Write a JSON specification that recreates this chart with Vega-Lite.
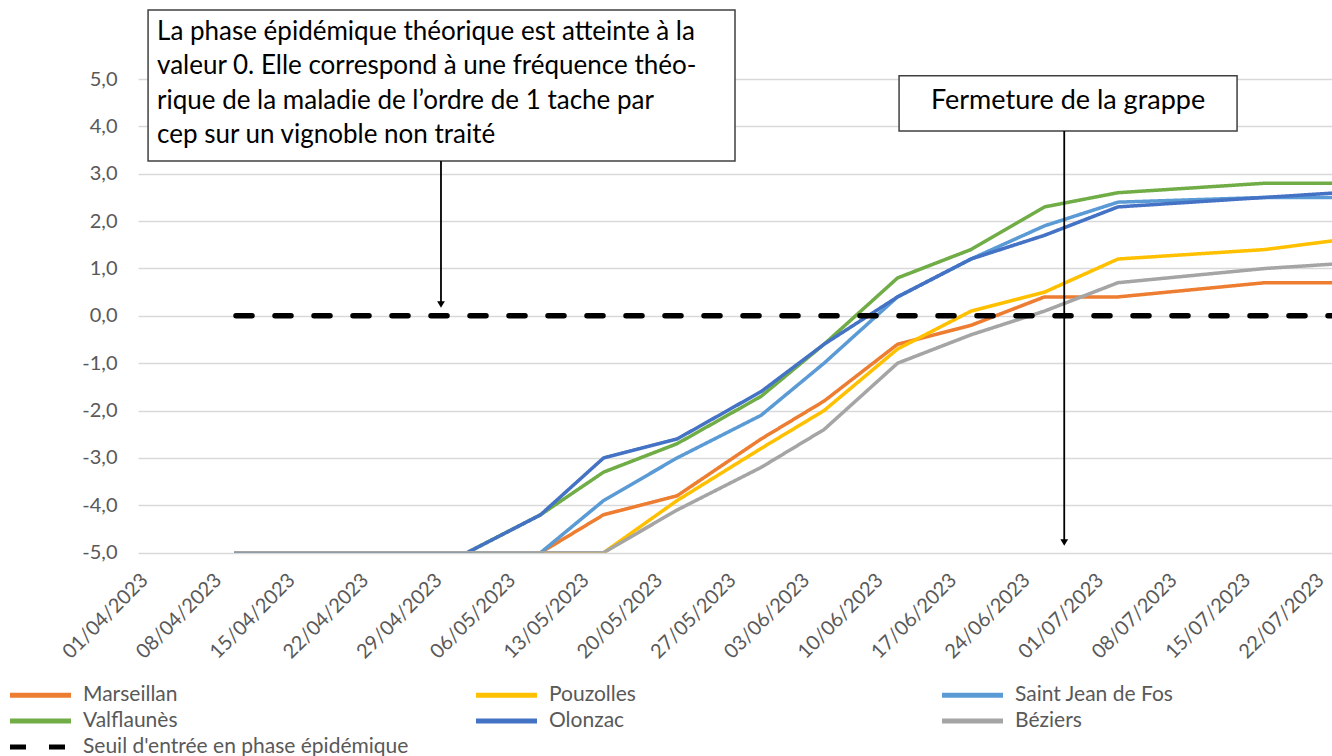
{
  "$schema": "https://vega.github.io/schema/vega-lite/v6.json",
  "width": 1194,
  "height": 473.7,
  "autosize": {"type": "none"},
  "padding": {"left": 138, "top": 79, "right": 0, "bottom": 203.3},
  "background": "white",
  "config": {
    "view": {"stroke": null},
    "locale": {
      "number": {"decimal": ",", "thousands": " ", "grouping": [3], "currency": ["", " €"], "minus": "-"}
    },
    "font": "Lato"
  },
  "datasets": {
    "series": [
      {"date": "2023-04-10T00:00:00", "site": "Marseillan", "value": -5},
      {"date": "2023-04-17T00:00:00", "site": "Marseillan", "value": -5},
      {"date": "2023-04-24T00:00:00", "site": "Marseillan", "value": -5},
      {"date": "2023-05-02T00:00:00", "site": "Marseillan", "value": -5},
      {"date": "2023-05-09T00:00:00", "site": "Marseillan", "value": -5},
      {"date": "2023-05-15T00:00:00", "site": "Marseillan", "value": -4.2},
      {"date": "2023-05-22T00:00:00", "site": "Marseillan", "value": -3.8},
      {"date": "2023-05-30T00:00:00", "site": "Marseillan", "value": -2.6},
      {"date": "2023-06-05T00:00:00", "site": "Marseillan", "value": -1.8},
      {"date": "2023-06-12T00:00:00", "site": "Marseillan", "value": -0.6},
      {"date": "2023-06-19T00:00:00", "site": "Marseillan", "value": -0.2},
      {"date": "2023-06-26T00:00:00", "site": "Marseillan", "value": 0.4},
      {"date": "2023-07-03T00:00:00", "site": "Marseillan", "value": 0.4},
      {"date": "2023-07-17T00:00:00", "site": "Marseillan", "value": 0.7},
      {"date": "2023-07-24T00:00:00", "site": "Marseillan", "value": 0.7},

      {"date": "2023-04-10T00:00:00", "site": "Pouzolles", "value": -5},
      {"date": "2023-04-17T00:00:00", "site": "Pouzolles", "value": -5},
      {"date": "2023-04-24T00:00:00", "site": "Pouzolles", "value": -5},
      {"date": "2023-05-02T00:00:00", "site": "Pouzolles", "value": -5},
      {"date": "2023-05-09T00:00:00", "site": "Pouzolles", "value": -5},
      {"date": "2023-05-15T00:00:00", "site": "Pouzolles", "value": -5},
      {"date": "2023-05-22T00:00:00", "site": "Pouzolles", "value": -3.9},
      {"date": "2023-05-30T00:00:00", "site": "Pouzolles", "value": -2.8},
      {"date": "2023-06-05T00:00:00", "site": "Pouzolles", "value": -2.0},
      {"date": "2023-06-12T00:00:00", "site": "Pouzolles", "value": -0.7},
      {"date": "2023-06-19T00:00:00", "site": "Pouzolles", "value": 0.1},
      {"date": "2023-06-26T00:00:00", "site": "Pouzolles", "value": 0.5},
      {"date": "2023-07-03T00:00:00", "site": "Pouzolles", "value": 1.2},
      {"date": "2023-07-17T00:00:00", "site": "Pouzolles", "value": 1.4},
      {"date": "2023-07-24T00:00:00", "site": "Pouzolles", "value": 1.6},

      {"date": "2023-04-10T00:00:00", "site": "Saint Jean de Fos", "value": -5},
      {"date": "2023-04-17T00:00:00", "site": "Saint Jean de Fos", "value": -5},
      {"date": "2023-04-24T00:00:00", "site": "Saint Jean de Fos", "value": -5},
      {"date": "2023-05-02T00:00:00", "site": "Saint Jean de Fos", "value": -5},
      {"date": "2023-05-09T00:00:00", "site": "Saint Jean de Fos", "value": -5},
      {"date": "2023-05-15T00:00:00", "site": "Saint Jean de Fos", "value": -3.9},
      {"date": "2023-05-22T00:00:00", "site": "Saint Jean de Fos", "value": -3.0},
      {"date": "2023-05-30T00:00:00", "site": "Saint Jean de Fos", "value": -2.1},
      {"date": "2023-06-05T00:00:00", "site": "Saint Jean de Fos", "value": -1.0},
      {"date": "2023-06-12T00:00:00", "site": "Saint Jean de Fos", "value": 0.4},
      {"date": "2023-06-19T00:00:00", "site": "Saint Jean de Fos", "value": 1.2},
      {"date": "2023-06-26T00:00:00", "site": "Saint Jean de Fos", "value": 1.9},
      {"date": "2023-07-03T00:00:00", "site": "Saint Jean de Fos", "value": 2.4},
      {"date": "2023-07-17T00:00:00", "site": "Saint Jean de Fos", "value": 2.5},
      {"date": "2023-07-24T00:00:00", "site": "Saint Jean de Fos", "value": 2.5},

      {"date": "2023-04-10T00:00:00", "site": "Valflaunès", "value": -5},
      {"date": "2023-04-17T00:00:00", "site": "Valflaunès", "value": -5},
      {"date": "2023-04-24T00:00:00", "site": "Valflaunès", "value": -5},
      {"date": "2023-05-02T00:00:00", "site": "Valflaunès", "value": -5},
      {"date": "2023-05-09T00:00:00", "site": "Valflaunès", "value": -4.2},
      {"date": "2023-05-15T00:00:00", "site": "Valflaunès", "value": -3.3},
      {"date": "2023-05-22T00:00:00", "site": "Valflaunès", "value": -2.7},
      {"date": "2023-05-30T00:00:00", "site": "Valflaunès", "value": -1.7},
      {"date": "2023-06-05T00:00:00", "site": "Valflaunès", "value": -0.6},
      {"date": "2023-06-12T00:00:00", "site": "Valflaunès", "value": 0.8},
      {"date": "2023-06-19T00:00:00", "site": "Valflaunès", "value": 1.4},
      {"date": "2023-06-26T00:00:00", "site": "Valflaunès", "value": 2.3},
      {"date": "2023-07-03T00:00:00", "site": "Valflaunès", "value": 2.6},
      {"date": "2023-07-17T00:00:00", "site": "Valflaunès", "value": 2.8},
      {"date": "2023-07-24T00:00:00", "site": "Valflaunès", "value": 2.8},

      {"date": "2023-04-10T00:00:00", "site": "Olonzac", "value": -5},
      {"date": "2023-04-17T00:00:00", "site": "Olonzac", "value": -5},
      {"date": "2023-04-24T00:00:00", "site": "Olonzac", "value": -5},
      {"date": "2023-05-02T00:00:00", "site": "Olonzac", "value": -5},
      {"date": "2023-05-09T00:00:00", "site": "Olonzac", "value": -4.2},
      {"date": "2023-05-15T00:00:00", "site": "Olonzac", "value": -3.0},
      {"date": "2023-05-22T00:00:00", "site": "Olonzac", "value": -2.6},
      {"date": "2023-05-30T00:00:00", "site": "Olonzac", "value": -1.6},
      {"date": "2023-06-05T00:00:00", "site": "Olonzac", "value": -0.6},
      {"date": "2023-06-12T00:00:00", "site": "Olonzac", "value": 0.4},
      {"date": "2023-06-19T00:00:00", "site": "Olonzac", "value": 1.2},
      {"date": "2023-06-26T00:00:00", "site": "Olonzac", "value": 1.7},
      {"date": "2023-07-03T00:00:00", "site": "Olonzac", "value": 2.3},
      {"date": "2023-07-17T00:00:00", "site": "Olonzac", "value": 2.5},
      {"date": "2023-07-24T00:00:00", "site": "Olonzac", "value": 2.6},

      {"date": "2023-04-10T00:00:00", "site": "Béziers", "value": -5},
      {"date": "2023-04-17T00:00:00", "site": "Béziers", "value": -5},
      {"date": "2023-04-24T00:00:00", "site": "Béziers", "value": -5},
      {"date": "2023-05-02T00:00:00", "site": "Béziers", "value": -5},
      {"date": "2023-05-09T00:00:00", "site": "Béziers", "value": -5},
      {"date": "2023-05-15T00:00:00", "site": "Béziers", "value": -5},
      {"date": "2023-05-22T00:00:00", "site": "Béziers", "value": -4.1},
      {"date": "2023-05-30T00:00:00", "site": "Béziers", "value": -3.2},
      {"date": "2023-06-05T00:00:00", "site": "Béziers", "value": -2.4},
      {"date": "2023-06-12T00:00:00", "site": "Béziers", "value": -1.0},
      {"date": "2023-06-19T00:00:00", "site": "Béziers", "value": -0.4},
      {"date": "2023-06-26T00:00:00", "site": "Béziers", "value": 0.1},
      {"date": "2023-07-03T00:00:00", "site": "Béziers", "value": 0.7},
      {"date": "2023-07-17T00:00:00", "site": "Béziers", "value": 1.0},
      {"date": "2023-07-24T00:00:00", "site": "Béziers", "value": 1.1},

      {"date": "2023-04-10T00:00:00", "site": "Seuil d'entrée en phase épidémique", "value": 0},
      {"date": "2023-07-24T00:00:00", "site": "Seuil d'entrée en phase épidémique", "value": 0}
    ],
    "boxes": [
      {"x": "2023-04-01T15:00:00", "x2": "2023-05-27T12:30:00", "y": 6.457, "y2": 3.269},
      {"x": "2023-06-12T03:30:00", "x2": "2023-07-14T08:00:00", "y": 5.066, "y2": 3.902}
    ],
    "notes": [
      {"x": "2023-04-02T11:30:00", "y": 5.99, "label": "La phase épidémique théorique est atteinte à la"},
      {"x": "2023-04-02T11:30:00", "y": 5.264, "label": "valeur 0. Elle correspond à une fréquence théo-"},
      {"x": "2023-04-02T11:30:00", "y": 4.536, "label": "rique de la maladie de l’ordre de 1 tache par"},
      {"x": "2023-04-02T11:30:00", "y": 3.808, "label": "cep sur un vignoble non traité"}
    ],
    "notes2": [
      {"x": "2023-06-28T05:45:00", "y": 4.536, "label": "Fermeture de la grappe"}
    ],
    "arrows": [
      {"x": "2023-04-29T12:30:00", "y": 3.269, "y2": 0.25},
      {"x": "2023-06-27T21:00:00", "y": 3.902, "y2": -4.75}
    ],
    "heads": [
      {"x": "2023-04-29T12:30:00", "y": 0.24},
      {"x": "2023-06-27T21:00:00", "y": -4.785}
    ]
  },
  "layer": [
    {
      "data": {"name": "series"},
      "mark": {"type": "line", "clip": true, "strokeCap": "round", "strokeJoin": "round"},
      "encoding": {
        "x": {
          "field": "date", "type": "temporal",
          "scale": {"domain": [{"year": 2023, "month": "Mar", "date": 31, "hours": 16}, {"year": 2023, "month": "Jul", "date": 23, "hours": 9}]},
          "axis": {
            "title": null, "grid": false, "ticks": false, "domain": false,
            "format": "%d/%m/%Y", "labelAngle": -45, "labelAlign": "right", "labelBaseline": "middle",
            "labelFont": "Lato", "labelFontSize": 20, "labelColor": "#595959",
            "labelPadding": 24, "labelOffset": 3, "labelOverlap": false,
            "values": [
              {"year": 2023, "month": "Apr", "date": 1}, {"year": 2023, "month": "Apr", "date": 8},
              {"year": 2023, "month": "Apr", "date": 15}, {"year": 2023, "month": "Apr", "date": 22},
              {"year": 2023, "month": "Apr", "date": 29}, {"year": 2023, "month": "May", "date": 6},
              {"year": 2023, "month": "May", "date": 13}, {"year": 2023, "month": "May", "date": 20},
              {"year": 2023, "month": "May", "date": 27}, {"year": 2023, "month": "Jun", "date": 3},
              {"year": 2023, "month": "Jun", "date": 10}, {"year": 2023, "month": "Jun", "date": 17},
              {"year": 2023, "month": "Jun", "date": 24}, {"year": 2023, "month": "Jul", "date": 1},
              {"year": 2023, "month": "Jul", "date": 8}, {"year": 2023, "month": "Jul", "date": 15},
              {"year": 2023, "month": "Jul", "date": 22}
            ]
          }
        },
        "y": {
          "field": "value", "type": "quantitative",
          "scale": {"domain": [-5, 5], "nice": false, "zero": false},
          "axis": {
            "title": null, "ticks": false, "domain": false, "grid": true,
            "gridColor": "#d9d9d9", "gridWidth": 1.3,
            "values": [-5, -4, -3, -2, -1, 0, 1, 2, 3, 4, 5],
            "format": ".1f", "labelFont": "Lato", "labelFontSize": 20, "labelColor": "#595959",
            "labelPadding": 21
          }
        },
        "color": {
          "field": "site", "type": "nominal",
          "scale": {
            "domain": ["Marseillan", "Pouzolles", "Saint Jean de Fos", "Valflaunès", "Olonzac", "Béziers", "Seuil d'entrée en phase épidémique"],
            "range": ["#ED7D31", "#FFC000", "#5B9BD5", "#70AD47", "#4472C4", "#A5A5A5", "#000000"]
          },
          "legend": {
            "orient": "none", "direction": "horizontal", "legendX": -108, "legendY": 605.5, "columns": 3, "gridAlign": "all",
            "columnPadding": 57, "rowPadding": 4, "padding": 0, "title": null,
            "symbolType": "M-6.1,0H6.1", "symbolSize": 100, "symbolStrokeWidth": 5,
            "labelFont": "Lato", "labelFontSize": 21, "labelColor": "#595959", "labelOffset": 32, "labelLimit": 0,
            "encode": {"symbols": {"update": {"strokeWidth": {"value": 5}}}}
          }
        },
        "strokeDash": {
          "field": "site", "type": "nominal",
          "scale": {
            "domain": ["Marseillan", "Pouzolles", "Saint Jean de Fos", "Valflaunès", "Olonzac", "Béziers", "Seuil d'entrée en phase épidémique"],
            "range": [[1, 0], [1, 0], [1, 0], [1, 0], [1, 0], [1, 0], [16, 23]]
          },
          "legend": {
            "orient": "none", "direction": "horizontal", "legendX": -108, "legendY": 605.5, "columns": 3, "gridAlign": "all",
            "columnPadding": 57, "rowPadding": 4, "padding": 0, "title": null,
            "symbolType": "M-6.1,0H6.1", "symbolSize": 100, "symbolStrokeWidth": 5,
            "labelFont": "Lato", "labelFontSize": 21, "labelColor": "#595959", "labelOffset": 32, "labelLimit": 0,
            "encode": {"symbols": {"update": {"strokeWidth": {"value": 5}}}}
          }
        },
        "strokeWidth": {
          "condition": {"test": "datum.site === \"Seuil d'entrée en phase épidémique\"", "value": 5.5},
          "value": 3.5
        }
      }
    },
    {
      "data": {"name": "boxes"},
      "mark": {"type": "rect", "fill": "white", "stroke": "#404040", "strokeWidth": 1.5, "clip": false},
      "encoding": {
        "x": {"field": "x", "type": "temporal"},
        "x2": {"field": "x2"},
        "y": {"field": "y", "type": "quantitative"},
        "y2": {"field": "y2"}
      }
    },
    {
      "data": {"name": "notes"},
      "mark": {"type": "text", "align": "left", "baseline": "middle", "font": "Lato", "fontSize": 26, "color": "#000000", "clip": false},
      "encoding": {
        "x": {"field": "x", "type": "temporal"},
        "y": {"field": "y", "type": "quantitative"},
        "text": {"field": "label"}
      }
    },
    {
      "data": {"name": "notes2"},
      "mark": {"type": "text", "align": "center", "baseline": "middle", "font": "Lato", "fontSize": 27, "color": "#000000", "clip": false},
      "encoding": {
        "x": {"field": "x", "type": "temporal"},
        "y": {"field": "y", "type": "quantitative"},
        "text": {"field": "label"}
      }
    },
    {
      "data": {"name": "arrows"},
      "mark": {"type": "rule", "color": "#000000", "strokeWidth": 1.8, "clip": false},
      "encoding": {
        "x": {"field": "x", "type": "temporal"},
        "y": {"field": "y", "type": "quantitative"},
        "y2": {"field": "y2"}
      }
    },
    {
      "data": {"name": "heads"},
      "mark": {"type": "point", "shape": "triangle-down", "filled": true, "color": "#000000", "size": 60, "opacity": 1, "clip": false},
      "encoding": {
        "x": {"field": "x", "type": "temporal"},
        "y": {"field": "y", "type": "quantitative"}
      }
    }
  ]
}
